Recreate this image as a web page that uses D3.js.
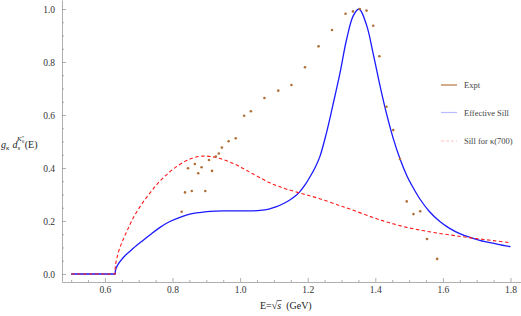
<!DOCTYPE html>
<html><head><meta charset="utf-8">
<script src="https://cdn.jsdelivr.net/npm/d3@7"></script>
<style>
body{margin:0;background:#fff;}
svg{display:block;}
svg text{font-family:"Times New Roman","Liberation Serif","DejaVu Serif",serif;}
</style></head>
<body>
<svg id="chart" width="521" height="316"></svg>
<script>
// Experimental points [E, value]
const exptE = [0.827,0.837,0.846,0.857,0.866,0.876,0.886,0.897,0.908,0.917,0.928,0.937,0.946,0.966,0.987,1.012,1.032,1.072,1.113,1.152,1.192,1.232,1.272,1.312,1.334,1.354,1.374,1.394,1.412,1.433,1.453,1.473,1.493,1.513,1.533,1.553,1.583];
const exptV = [0.235,0.308,0.399,0.313,0.415,0.380,0.403,0.313,0.430,0.389,0.443,0.455,0.477,0.501,0.512,0.597,0.614,0.664,0.692,0.713,0.780,0.859,0.921,0.982,0.991,1.000,0.994,0.937,0.822,0.631,0.543,0.434,0.274,0.226,0.237,0.132,0.057];

// Effective Sill curve
const sillE = [0.5,0.63,0.632,0.637,0.644,0.66,0.684,0.71,0.733,0.762,0.792,0.822,0.851,0.88,0.911,0.95,0.99,1.03,1.059,1.085,1.108,1.13,1.147,1.165,1.177,1.192,1.207,1.222,1.236,1.255,1.275,1.295,1.315,1.335,1.352,1.374,1.394,1.414,1.433,1.453,1.473,1.493,1.51,1.532,1.56,1.591,1.62,1.65,1.709,1.76,1.8];
const sillV = [0,0,0.018,0.032,0.046,0.07,0.097,0.124,0.147,0.175,0.198,0.214,0.226,0.232,0.236,0.238,0.238,0.238,0.24,0.245,0.254,0.267,0.279,0.296,0.311,0.336,0.367,0.402,0.443,0.53,0.64,0.755,0.885,0.975,1.0,0.94,0.83,0.71,0.606,0.512,0.435,0.372,0.33,0.283,0.236,0.198,0.172,0.152,0.127,0.113,0.103];

// Sill for kappa(700) curve
const kapE = [0.5,0.63,0.631,0.635,0.643,0.654,0.668,0.684,0.708,0.733,0.76,0.788,0.815,0.842,0.866,0.891,0.915,0.94,0.965,0.99,1.015,1.039,1.064,1.088,1.113,1.138,1.187,1.236,1.295,1.325,1.394,1.44,1.493,1.54,1.591,1.64,1.69,1.75,1.8];
const kapV = [0,0,0.03,0.058,0.095,0.13,0.17,0.212,0.262,0.305,0.347,0.381,0.408,0.428,0.44,0.445,0.443,0.436,0.425,0.411,0.394,0.377,0.36,0.344,0.331,0.32,0.302,0.284,0.258,0.245,0.213,0.194,0.176,0.164,0.153,0.144,0.135,0.126,0.118];

const xTicks = [0.6,0.8,1.0,1.2,1.4,1.6,1.8];
const yTicks = [0.0,0.2,0.4,0.6,0.8,1.0];
const legendLabels = ["Expt","Effective Sill","Sill for κ(700)"];

const svg = d3.select("#chart");
const x = d3.scaleLinear().domain([0.473,1.832]).range([62,521.3]);
const y = d3.scaleLinear().domain([-0.0302,1.034]).range([282,0]);

const axisColor = "#9a9a9a";
const fmt = d3.format(".1f");
const serif = "'Times New Roman', 'Liberation Serif', 'DejaVu Serif', serif";

const xMinor = d3.range(0.5,1.8001,0.05).filter(v=>!xTicks.some(t=>Math.abs(t-v)<1e-6));
const yMinor = d3.range(0,1.0001,0.05).filter(v=>!yTicks.some(t=>Math.abs(t-v)<1e-6));

const gx = svg.append("g").attr("transform","translate(0,282)");
gx.call(d3.axisBottom(x).tickValues(xTicks).tickFormat(fmt).tickSizeInner(-4).tickSizeOuter(0).tickPadding(4));
const gxm = svg.append("g").attr("transform","translate(0,282)");
gxm.call(d3.axisBottom(x).tickValues(xMinor).tickFormat("").tickSizeInner(-2).tickSizeOuter(0));
gxm.select(".domain").remove();

const gy = svg.append("g").attr("transform","translate(62,0)");
gy.call(d3.axisLeft(y).tickValues(yTicks).tickFormat(fmt).tickSizeInner(-4).tickSizeOuter(0).tickPadding(7));
const gym = svg.append("g").attr("transform","translate(62,0)");
gym.call(d3.axisLeft(y).tickValues(yMinor).tickFormat("").tickSizeInner(-2).tickSizeOuter(0));
gym.select(".domain").remove();

svg.selectAll("g").attr("font-family",serif);
svg.selectAll(".domain, .tick line").attr("stroke",axisColor).attr("stroke-width",0.8);
svg.selectAll(".tick text").attr("font-size",9.5).attr("fill","#333").style("font-family",serif);

// flat part below threshold with a straight line, the rest with a smooth spline
const flatLine = d3.line().x(d=>x(d[0])).y(d=>y(d[1]));
const smoothLine = d3.line().x(d=>x(d[0])).y(d=>y(d[1])).curve(d3.curveCatmullRom.alpha(0.5));
function drawSeries(E, V, stroke, width, dash){
  const data = E.map((e,i)=>[e,V[i]]);
  const flat = data.filter(d=>d[0]<=0.63);
  const rest = data.filter(d=>d[0]>=0.63);
  const d = flatLine(flat) + smoothLine(rest).replace(/^M/,"L");
  svg.append("path").attr("d",d).attr("fill","none").attr("stroke",stroke)
    .attr("stroke-width",width).attr("stroke-dasharray",dash);
}
drawSeries(sillE, sillV, "#1a1aff", 1.3, null);
drawSeries(kapE, kapV, "#ff1a1a", 1.1, "3.5,2.5");

const exptColor = "#b0703a";
svg.append("g").selectAll("circle").data(exptE.map((e,i)=>[e,exptV[i]])).join("circle")
  .attr("cx",d=>x(d[0])).attr("cy",d=>y(d[1])).attr("r",1.3).attr("fill",exptColor);

// Legend
const leg = svg.append("g");
const legY = [85,112.5,141];
const legStyles = [
  {stroke:"#b5743a", dash:null, w:1.2},
  {stroke:"#b8bcff", dash:null, w:1.2},
  {stroke:"#ffc4c4", dash:"3,2", w:1.2}
];
legendLabels.forEach((lab,i)=>{
  leg.append("line").attr("x1",441).attr("x2",457).attr("y1",legY[i]).attr("y2",legY[i])
    .attr("stroke",legStyles[i].stroke).attr("stroke-width",legStyles[i].w)
    .attr("stroke-dasharray",legStyles[i].dash);
  leg.append("text").attr("x",464).attr("y",legY[i]+3).attr("font-size",8.5).attr("fill","#444").style("font-family",serif).text(lab);
});

// Y axis label: g_κ d_s^{K0*}(E)
const yl = svg.append("text").attr("x",1).attr("y",148).attr("font-size",10).attr("fill","#222").style("font-family",serif);
yl.append("tspan").attr("font-style","italic").text("g");
yl.append("tspan").attr("font-style","italic").attr("font-size",7).attr("dy",2).text("κ");
yl.append("tspan").attr("font-style","italic").attr("dy",-2).attr("dx",3).text("d");
yl.append("tspan").attr("font-style","italic").attr("font-size",7).attr("dy",2).text("s");
yl.append("tspan").attr("font-style","italic").attr("font-size",7).attr("dy",-9).attr("dx",-3).text("K");
yl.append("tspan").attr("font-size",5).attr("dy",2).text("0");
yl.append("tspan").attr("font-size",5).attr("dy",-4).attr("dx",-2.5).text("*");
yl.append("tspan").attr("dy",9).attr("dx",0.5).text("(E)");

// X axis label: E=√s (GeV)
const xlg = svg.append("g").attr("font-size",10).attr("fill","#222");
const t1 = xlg.append("text").attr("x",260).attr("y",309).style("font-family",serif).text("E=");
const w1 = t1.node().getComputedTextLength();
const t2 = xlg.append("text").attr("x",260+w1).attr("y",309).style("font-family",serif).text("√");
const w2 = t2.node().getComputedTextLength();
const t3 = xlg.append("text").attr("x",260+w1+w2).attr("y",309).style("font-family",serif).attr("font-style","italic").text("s");
const w3 = t3.node().getComputedTextLength();
xlg.append("line").attr("x1",260+w1+w2-0.5).attr("x2",260+w1+w2+w3+0.5).attr("y1",300.5).attr("y2",300.5).attr("stroke","#222").attr("stroke-width",0.7);
xlg.append("text").attr("x",260+w1+w2+w3+5).attr("y",309).style("font-family",serif).text("(GeV)");
</script>
</body></html>
